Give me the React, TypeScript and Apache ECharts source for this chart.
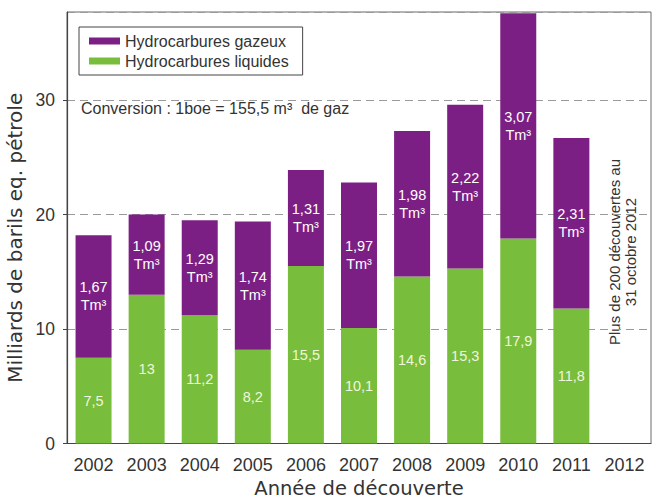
import React, { useEffect, useRef } from "react";
import * as echarts from "echarts";

const years = ["2002", "2003", "2004", "2005", "2006", "2007", "2008", "2009", "2010", "2011", "2012"];
// Liquid hydrocarbons (billion boe)
const liquides: (number | null)[] = [7.5, 13, 11.2, 8.2, 15.5, 10.1, 14.6, 15.3, 17.9, 11.8, null];
// Gas hydrocarbons (billion boe)
const gazeux: (number | null)[] = [10.7, 7.0, 8.3, 11.2, 8.4, 12.7, 12.7, 14.3, 19.7, 14.9, null];
// Gas volume labels (Tm³)
const gazLabels: string[] = ["1,67", "1,09", "1,29", "1,74", "1,31", "1,97", "1,98", "2,22", "3,07", "2,31", ""];
const liquidLabels: string[] = ["7,5", "13", "11,2", "8,2", "15,5", "10,1", "14,6", "15,3", "17,9", "11,8", ""];
const yTicks = [0, 10, 20, 30];

const PURPLE = "#7c1f84";
const GREEN = "#79bd3d";
const FONT = "Liberation Sans, Arial, sans-serif";
const TITLE_FONT = "DejaVu Sans, Liberation Sans, sans-serif";

export default function App() {
  const ref = useRef<HTMLDivElement>(null);
  useEffect(() => {
    if (!ref.current) return;
    const chart = echarts.init(ref.current, undefined, { renderer: "svg" });
    chart.setOption({
      animation: false,
      backgroundColor: "#ffffff",
      textStyle: { fontFamily: FONT },
      grid: {
        left: 67,
        right: 8,
        top: 12,
        bottom: 55.5,
        containLabel: false,
        outerBoundsMode: "none",
        show: true,
        borderColor: "#6a6a6a",
        borderWidth: 1,
        backgroundColor: "transparent",
      },
      legend: {
        orient: "vertical",
        left: 79,
        top: 27,
        data: ["Hydrocarbures gazeux", "Hydrocarbures liquides"],
        icon: "rect",
        itemWidth: 31,
        itemHeight: 7,
        itemGap: 4,
        padding: [6, 14, 6, 10],
        borderColor: "#444",
        borderWidth: 1,
        backgroundColor: "#fff",
        textStyle: { fontSize: 16, color: "#333", fontFamily: FONT, lineHeight: 16 },
      },
      xAxis: {
        type: "category",
        data: years,
        name: "Année de découverte",
        nameLocation: "middle",
        nameGap: 33,
        nameTextStyle: { fontSize: 19.5, lineHeight: 20, color: "#333", fontFamily: TITLE_FONT },
        axisLine: { lineStyle: { color: "#444", width: 1.2 } },
        axisTick: { inside: true, length: 5, lineStyle: { color: "#444" } },
        axisLabel: { fontSize: 18, color: "#333", margin: 12, fontFamily: FONT },
      },
      yAxis: {
        type: "value",
        min: 0,
        max: 37.7,
        interval: 10,
        name: "Milliards de barils eq. pétrole",
        nameLocation: "middle",
        nameGap: 39,
        nameTextStyle: { fontSize: 20, color: "#333", fontFamily: TITLE_FONT, padding: [0, 20, 0, 0] },
        axisLine: { show: true, lineStyle: { color: "#444", width: 1.2 } },
        axisTick: { show: true, length: 4, lineStyle: { color: "#444" } },
        axisLabel: {
          fontSize: 17.5,
          color: "#333",
          margin: 12,
          fontFamily: FONT,
          showMaxLabel: false,
          formatter: (v: number) => (yTicks.includes(v) ? String(v) : ""),
        },
        splitLine: { show: true, lineStyle: { color: "#9a9a9a", type: [8, 5], width: 1 } },
      },
      series: [
        {
          name: "Hydrocarbures liquides",
          type: "bar",
          stack: "total",
          barWidth: 36,
          data: liquides,
          itemStyle: { color: GREEN },
          label: {
            show: true,
            position: "inside",
            color: "#eef7dc",
            fontSize: 14.5,
            fontFamily: FONT,
            formatter: (p: any) => liquidLabels[p.dataIndex],
          },
        },
        {
          name: "Hydrocarbures gazeux",
          type: "bar",
          stack: "total",
          barWidth: 36,
          data: gazeux,
          itemStyle: { color: PURPLE },
          label: {
            show: true,
            position: "inside",
            color: "#ffffff",
            fontSize: 14.5,
            lineHeight: 18,
            fontFamily: FONT,
            formatter: (p: any) => (gazLabels[p.dataIndex] ? gazLabels[p.dataIndex] + "\nTm³" : ""),
          },
        },
      ],
      graphic: [
        {
          type: "text",
          left: 81,
          top: 100,
          style: {
            text: "Conversion : 1boe = 155,5 m³  de gaz",
            fontSize: 16,
            fill: "#333",
            fontFamily: FONT,
          },
        },
        {
          type: "text",
          x: 622,
          y: 252,
          rotation: Math.PI / 2,
          style: {
            text: "Plus de 200 découvertes au\n31 octobre 2012",
            fontSize: 15,
            lineHeight: 16,
            fill: "#333",
            align: "center",
            verticalAlign: "middle",
            fontFamily: FONT,
          },
        },
      ],
    });
    return () => chart.dispose();
  }, []);
  return <div ref={ref} style={{ width: 659, height: 499, position: "absolute", left: 0, top: 0 }} />;
}
